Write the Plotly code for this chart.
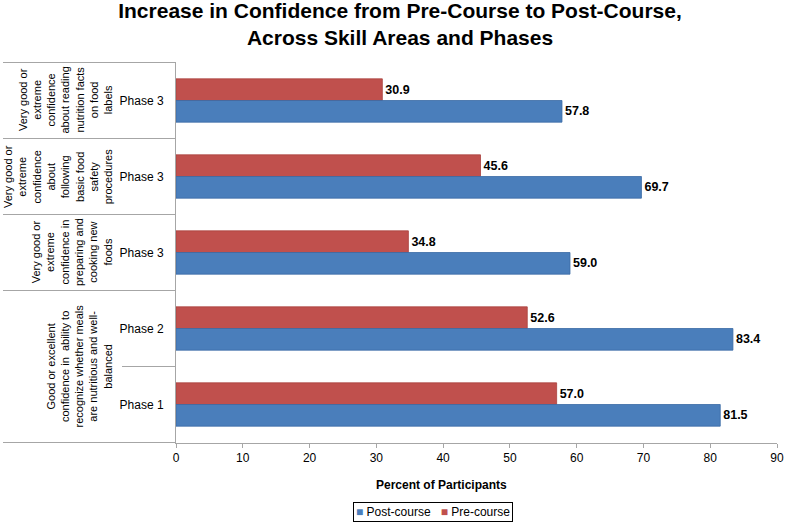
import plotly.graph_objects as go

# ---- data ----
category_ids = ["nutrition_p3", "safety_p3", "foods_p3", "meals_p2", "meals_p1"]
phase_labels = ["Phase 3", "Phase 3", "Phase 3", "Phase 2", "Phase 1"]
post_course = [57.8, 69.7, 59.0, 83.4, 81.5]
pre_course = [30.9, 45.6, 34.8, 52.6, 57.0]
group_labels = [
    "Very good or<br>extreme<br>confidence<br>about reading<br>nutrition facts<br>on food<br>labels",
    "Very good or<br>extreme<br>confidence<br>about<br>following<br>basic food<br>safety<br>procedures",
    "Very good or<br>extreme<br>confidence in<br>preparing and<br>cooking new<br>foods",
    "Good or excellent<br>confidence in  ability to<br>recognize whether meals<br>are nutritious and well-<br>balanced",
]
group_positions = ["nutrition_p3", "safety_p3", "foods_p3", 3.5]
group_centers_px = [65, 57.5, 71.5, 79]
x_ticks = [0, 10, 20, 30, 40, 50, 60, 70, 80, 90]

PLOT_L, PLOT_R, PLOT_T, PLOT_B = 176, 9, 62, 82
W, H = 786, 525
pw = W - PLOT_L - PLOT_R
ph = H - PLOT_T - PLOT_B
PLOT_BOTTOM = PLOT_T + ph

BASE = "Liberation Sans, Arial, sans-serif"
BLUE, RED = "#4a7ebb", "#c0504d"


def px_x(x):
    return (x - PLOT_L) / pw


def px_y(y):
    return (PLOT_BOTTOM - y) / ph


fig = go.Figure()
fig.add_trace(go.Bar(
    y=category_ids, x=pre_course, name="Pre-course", orientation="h",
    marker=dict(color=RED, line=dict(color="#a8413e", width=0.8)),
    texttemplate="%{x:.1f}", textposition="outside",
    textfont=dict(family=BASE, size=12.5, color="#000000", weight="bold"),
    cliponaxis=False, showlegend=False,
))
fig.add_trace(go.Bar(
    y=category_ids, x=post_course, name="Post-course", orientation="h",
    marker=dict(color=BLUE, line=dict(color="#3a6aa5", width=0.8)),
    texttemplate="%{x:.1f}", textposition="outside",
    textfont=dict(family=BASE, size=12.5, color="#000000", weight="bold"),
    cliponaxis=False, showlegend=False,
))

shapes = []
line_style = dict(color="#a6a6a6", width=1)
for yv, x_px in [(-0.5, 3), (0.5, 3), (1.5, 3), (2.5, 3), (3.5, 122), (4.5, 3)]:
    shapes.append(dict(type="line", xref="paper", yref="y",
                       x0=px_x(x_px), x1=0, y0=yv, y1=yv,
                       line=line_style, layer="above"))

annotations = []
for txt, ypos, cx in zip(group_labels, group_positions, group_centers_px):
    annotations.append(dict(
        text=txt, xref="paper", yref="y", x=0, y=ypos,
        xshift=cx - PLOT_L, xanchor="center", yanchor="middle",
        textangle=-90, showarrow=False, align="center",
        font=dict(family=BASE, size=11, color="#000000"),
    ))

# x-axis title (placed as in the reference, left of plot centre)
annotations.append(dict(
    text="<b>Percent of Participants</b>", xref="paper", yref="paper",
    x=px_x(441), y=px_y(485), xanchor="center", yanchor="middle",
    showarrow=False, font=dict(family=BASE, size=12, color="#000000"),
))

# legend drawn as a bordered text box
annotations.append(dict(
    text=(f'<span style="color:{BLUE}">■</span> Post-course&nbsp;&nbsp;&nbsp;'
          f'<span style="color:{RED}">■</span> Pre-course'),
    xref="paper", yref="paper", x=px_x(433), y=px_y(512),
    xanchor="center", yanchor="middle", showarrow=False,
    font=dict(family=BASE, size=12, color="#000000"),
    bordercolor="#000000", borderwidth=1, borderpad=2, bgcolor="white",
))

fig.update_layout(
    width=W, height=H,
    margin=dict(l=PLOT_L, r=PLOT_R, t=PLOT_T, b=PLOT_B),
    paper_bgcolor="white", plot_bgcolor="white",
    barmode="group", bargap=0.43, bargroupgap=0,
    showlegend=False,
    title=dict(
        text="<b>Increase in Confidence from Pre-Course to Post-Course,<br>Across Skill Areas and Phases</b>",
        x=400 / W, xanchor="center", xref="container",
        y=1 - 18 / H, yanchor="middle", yref="container",
        font=dict(family=BASE, size=21, color="#000000"),
    ),
    xaxis=dict(
        range=[0, 90], tickvals=x_ticks, showgrid=False, zeroline=False,
        showline=True, linecolor="#a6a6a6", linewidth=1,
        ticks="outside", ticklen=4, tickcolor="#a6a6a6",
        tickfont=dict(family=BASE, size=12, color="#000000"),
        fixedrange=True, automargin=False,
    ),
    yaxis=dict(
        type="category", categoryorder="array", categoryarray=category_ids,
        tickvals=category_ids, ticktext=phase_labels,
        autorange="reversed", showgrid=False, zeroline=False,
        showline=True, linecolor="#a6a6a6", linewidth=1, ticks="",
        ticklabelstandoff=9,
        tickfont=dict(family=BASE, size=12, color="#000000"),
        fixedrange=True, automargin=False,
    ),
    shapes=shapes, annotations=annotations,
)

fig.write_html("out.html", config={"displayModeBar": False},
               post_script="document.body.style.margin='0px';")
